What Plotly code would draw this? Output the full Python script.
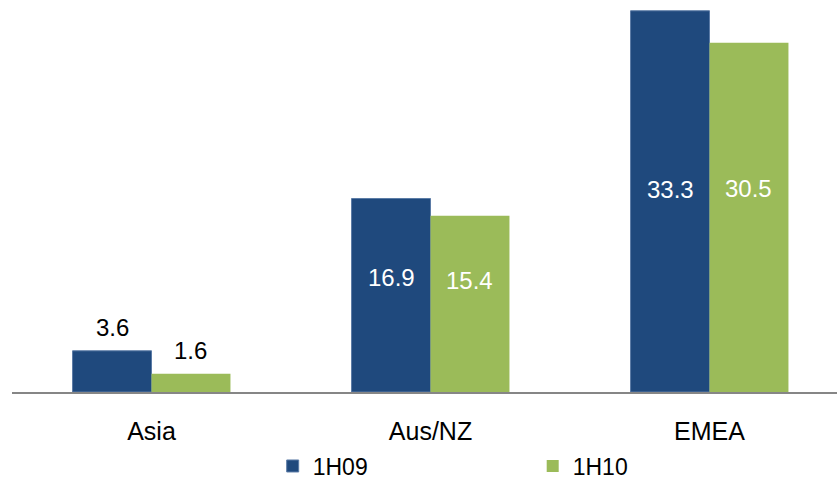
import plotly.graph_objects as go

# Regional figures for two half-years
regions = ["Asia", "Aus/NZ", "EMEA"]
h09 = [3.6, 16.9, 33.3]
h10 = [1.6, 15.4, 30.5]
series_names = ["1H09", "1H10"]

BLUE = "#1F497D"
GREEN = "#9BBB59"
FONT = "Liberation Sans, Arial, sans-serif"
BARGAP = 0.434

fig = go.Figure()
fig.add_trace(go.Bar(
    x=regions, y=h09, name=series_names[0],
    marker=dict(color=BLUE, line=dict(color="#5B7BA6", width=1)),
))
fig.add_trace(go.Bar(
    x=regions, y=h10, name=series_names[1],
    marker=dict(color=GREEN, line=dict(width=0)),
))

# Value labels: above the short Asia bars, white inside the taller bars
half = (1 - BARGAP) / 4
inside_shift = {("Aus/NZ", 0): 18, ("Aus/NZ", 1): 23, ("EMEA", 0): 12, ("EMEA", 1): 29}
for s, (vals, off) in enumerate([(h09, -half), (h10, half)]):
    for i, (reg, v) in enumerate(zip(regions, vals)):
        if reg == "Asia":
            fig.add_annotation(x=i + off, y=v, xref="x", yref="y", text=f"{v:.1f}",
                               showarrow=False, yanchor="middle", yshift=23,
                               font=dict(family=FONT, size=24, color="#000000"))
        else:
            fig.add_annotation(x=i + off, y=v / 2, xref="x", yref="y", text=f"{v:.1f}",
                               showarrow=False, yanchor="middle",
                               yshift=inside_shift[(reg, s)],
                               font=dict(family=FONT, size=24, color="#FFFFFF"))

fig.update_layout(
    width=837, height=481,
    margin=dict(l=12, r=0, t=0, b=89, autoexpand=False),
    paper_bgcolor="white", plot_bgcolor="white",
    barmode="group", bargap=BARGAP, bargroupgap=0,
    font=dict(family=FONT, size=23, color="#000000"),
    showlegend=True,
    legend=dict(orientation="h", x=0.316, xanchor="left", y=-0.134, yanchor="top",
                entrywidth=215, font=dict(family=FONT, size=23),
                bgcolor="rgba(0,0,0,0)"),
    xaxis=dict(type="category", range=[-0.5, 2.457], showline=True,
               linecolor="#868686", linewidth=1.5, ticks="", showgrid=False,
               tickfont=dict(family=FONT, size=25), ticklabelstandoff=16,
               automargin=False),
    yaxis=dict(range=[0, 34.24], visible=False, showgrid=False, zeroline=False,
               automargin=False),
)

fig.write_html("out.html")
